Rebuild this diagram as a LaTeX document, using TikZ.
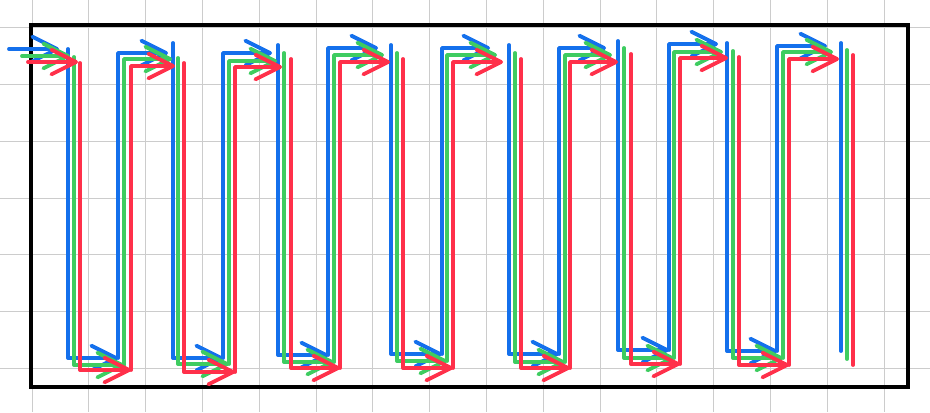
\documentclass[tikz,border=0pt]{standalone}
\usetikzlibrary{arrows.meta}
\definecolor{laneblue}{RGB}{20,112,236}
\definecolor{lanegreen}{RGB}{62,204,96}
\definecolor{lanered}{RGB}{255,48,74}
\definecolor{gridgray}{RGB}{204,204,204}
\begin{document}
\begin{tikzpicture}[x=0.03cm,y=-0.03cm,
  gridline/.style={gridgray, line width=0.8pt},
  lane/.style={line width=3.3pt, line cap=round, line join=round},
  tip/.style={-{Straight Barb[length=7.4mm,width=7.4mm,round]}}]
\useasboundingbox (0,0) rectangle (930,412);
% background grid
\foreach \gx in {0,...,15} \draw[gridline] ({32+56.8*\gx},0) -- ({32+56.8*\gx},412);
\foreach \gy in {0,...,6} \draw[gridline] (0,{27.7+56.8*\gy}) -- (930,{27.7+56.8*\gy});
\draw[line width=3pt] (31,25) rectangle (908,387);
% blue lane
\draw[lane, laneblue, tip] (9,49) -- (59,49);
\foreach \xd/\td/\b/\xu/\tu/\tp in {68/49/358/118/53/168, 173/43/358/223/53/272,
    278/45/355/328/48/378, 391/45/354/442/48/490, 509/45/354/559/48/606,
    618/41/350/669/44/718, 727/43/351/777/46/827} {
  \draw[lane, laneblue, tip] (\xd,\td) -- (\xd,\b) -- (\xu,\b);
  \draw[lane, laneblue, tip] (\xu,\b) -- (\xu,\tu) -- (\tp,\tu);
}
\draw[lane, laneblue] (841,43) -- (841,351);
% green lane
\draw[lane, lanegreen, tip] (22,56) -- (70,56);
\foreach \xd/\td/\b/\xu/\tu/\tp in {74/57/365/124/59/172, 178/58/364/229/61/277,
    284/53/362/334/55/384, 397/53/361/447/55/497, 515/53/362/565/55/612,
    624/48/358/674/52/723, 733/51/358/783/52/833} {
  \draw[lane, lanegreen, tip] (\xd,\td) -- (\xd,\b) -- (\xu,\b);
  \draw[lane, lanegreen, tip] (\xu,\b) -- (\xu,\tu) -- (\tp,\tu);
}
\draw[lane, lanegreen] (847,50) -- (847,359);
% red lane
\draw[lane, lanered, tip] (28,62) -- (78,62);
\foreach \xd/\td/\b/\xu/\tu/\tp in {80/63/370/131/66/175, 184/63/372/235/67/282,
    291/59/368/340/62/390, 403/59/368/453/62/503, 521/59/368/570/62/618,
    631/54/364/680/58/728, 739/57/365/789/59/839} {
  \draw[lane, lanered, tip] (\xd,\td) -- (\xd,\b) -- (\xu,\b);
  \draw[lane, lanered, tip] (\xu,\b) -- (\xu,\tu) -- (\tp,\tu);
}
\draw[lane, lanered] (853,55) -- (853,365);
\end{tikzpicture}
\end{document}
